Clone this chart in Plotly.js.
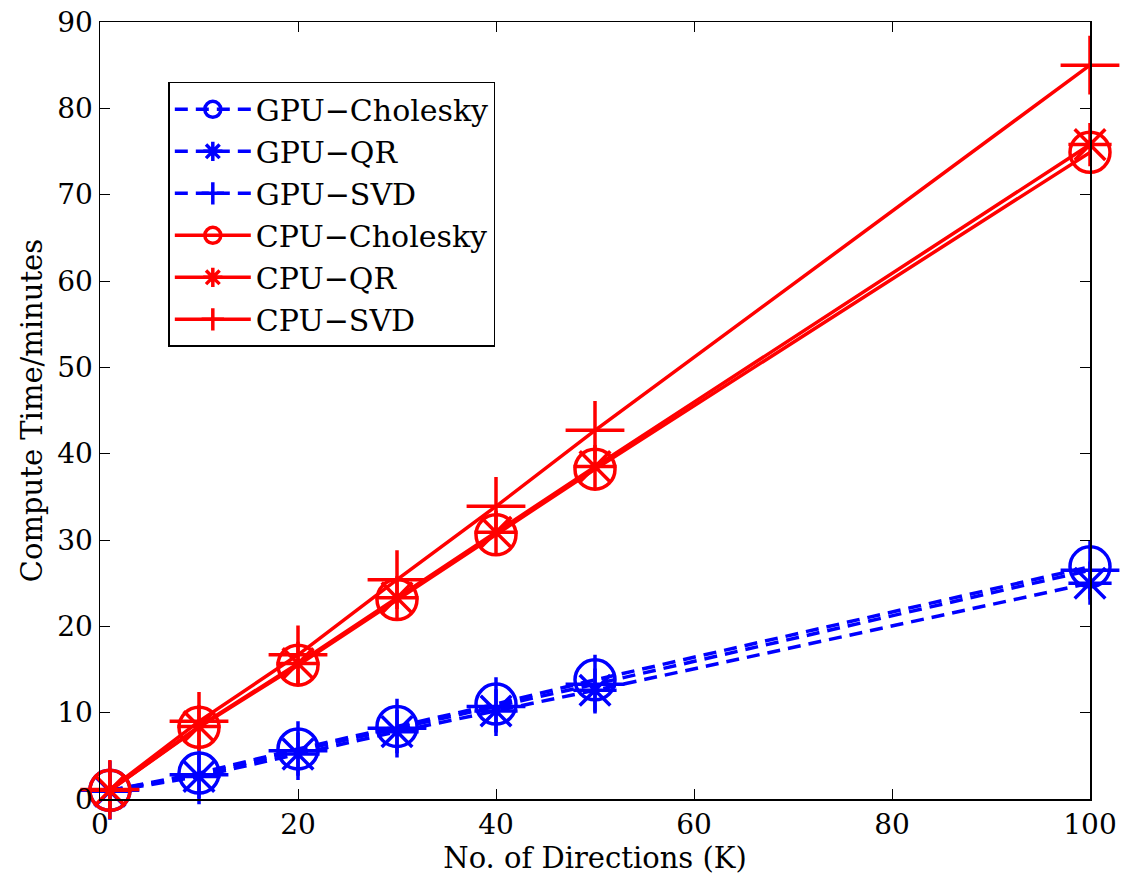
<!DOCTYPE html>
<html>
<head>
<meta charset="utf-8">
<script src="https://cdn.plot.ly/plotly-3.0.1.min.js"></script>
<style>html,body{margin:0;padding:0;background:#fff;}#chart{width:1122px;height:880px;}</style>
</head>
<body>
<div id="chart"></div>
<script>
var directions = [1, 10, 20, 30, 40, 50, 100];
var gpuCholesky = [1.0, 3.0, 5.8, 8.4, 11.0, 13.8, 26.9];
var gpuQR = [0.9, 2.6, 5.2, 7.8, 10.2, 12.6, 25.0];
var gpuSVD = [1.0, 2.8, 5.6, 8.2, 10.7, 13.3, 26.5];
var cpuCholesky = [1.0, 8.3, 15.5, 23.1, 30.6, 38.2, 74.9];
var cpuQR = [1.0, 8.4, 15.7, 23.3, 30.9, 38.5, 75.8];
var cpuSVD = [1.1, 9.0, 16.7, 25.4, 33.9, 42.7, 85.0];
var seriesNames = ['GPU\u2212Cholesky', 'GPU\u2212QR', 'GPU\u2212SVD', 'CPU\u2212Cholesky', 'CPU\u2212QR', 'CPU\u2212SVD'];

var BLUE = '#0000ff', RED = '#ff0000';
function tr(y, name, color, symbol, dash, size) {
  return {
    x: directions, y: y, name: name, type: 'scatter', mode: 'lines+markers',
    cliponaxis: false,
    line: {color: color, width: 3.5, dash: dash},
    marker: {symbol: symbol, size: size, color: color, line: {color: color, width: 3.5}}
  };
}
var data = [
  tr(gpuCholesky, seriesNames[0], BLUE, 'circle-open', '13px,8px', 40),
  tr(gpuQR, seriesNames[1], BLUE, 'asterisk-open', '13px,8px', 36),
  tr(gpuSVD, seriesNames[2], BLUE, 'cross-thin-open', '13px,8px', 42),
  tr(cpuCholesky, seriesNames[3], RED, 'circle-open', 'solid', 40),
  tr(cpuQR, seriesNames[4], RED, 'asterisk-open', 'solid', 36),
  tr(cpuSVD, seriesNames[5], RED, 'cross-thin-open', 'solid', 42)
];

var FONT = 'DejaVu Serif, serif';
var layout = {
  width: 1122, height: 880,
  margin: {l: 100, r: 32, t: 22, b: 81},
  paper_bgcolor: '#fff', plot_bgcolor: '#fff',
  font: {family: FONT, color: '#000', size: 26},
  showlegend: true,
  legend: {
    x: 0.069, y: 0.923, xanchor: 'left', yanchor: 'top',
    bgcolor: '#fff', bordercolor: '#000', borderwidth: 1.5,
    font: {family: FONT, size: 30, color: '#000'},
    itemwidth: 76, tracegroupgap: 0
  },
  xaxis: {
    range: [0, 100], tickvals: [0, 20, 40, 60, 80, 100],
    ticks: 'inside', ticklen: 10, tickwidth: 1, tickcolor: '#000',
    showline: true, linecolor: '#000', linewidth: 1.5, mirror: 'ticks',
    showgrid: false, zeroline: false,
    tickfont: {family: FONT, size: 28},
    title: {text: 'No. of Directions (K)', font: {family: FONT, size: 29}, standoff: 0}
  },
  yaxis: {
    range: [0, 90], tickvals: [0, 10, 20, 30, 40, 50, 60, 70, 80, 90],
    ticks: 'inside', ticklen: 10, tickwidth: 1, tickcolor: '#000',
    showline: true, linecolor: '#000', linewidth: 1.5, mirror: 'ticks',
    showgrid: false, zeroline: false,
    tickfont: {family: FONT, size: 28},
    title: {text: 'Compute Time/minutes', font: {family: FONT, size: 29}, standoff: 6}
  }
};
Plotly.newPlot('chart', data, layout, {displayModeBar: false, staticPlot: true});
</script>
</body>
</html>
